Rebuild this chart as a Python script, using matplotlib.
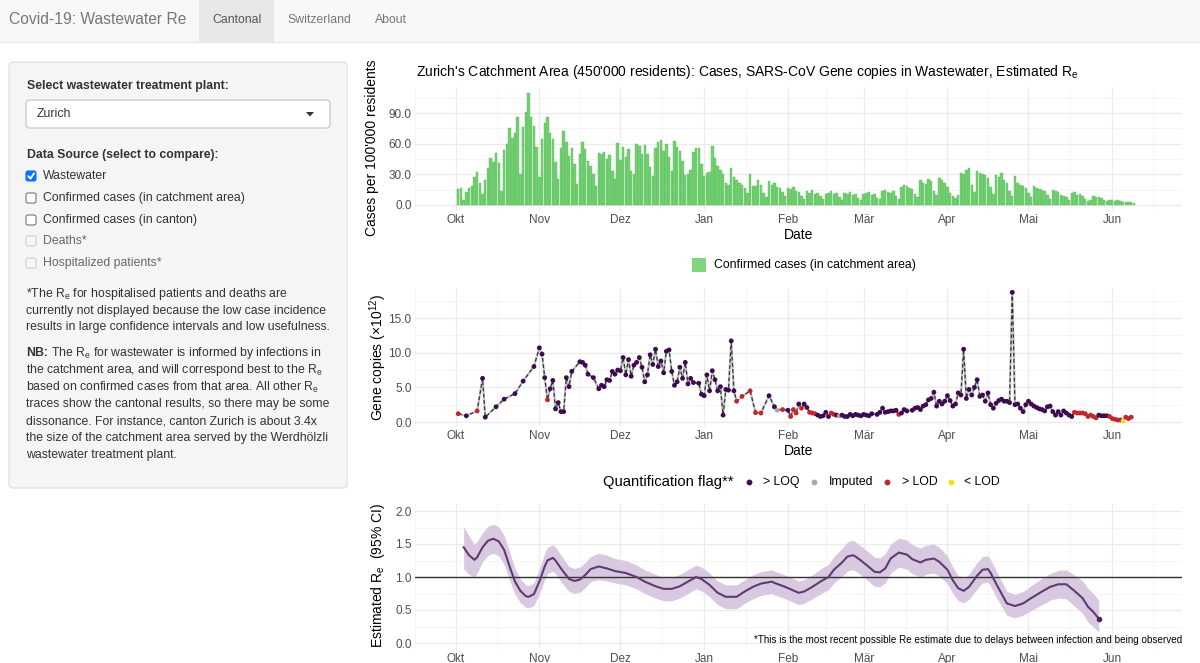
import numpy as np
import pandas as pd
import matplotlib
matplotlib.use('Agg')
import matplotlib.pyplot as plt
import matplotlib.dates as mdates
from matplotlib.patches import FancyBboxPatch, Rectangle, Polygon

plt.rcParams['font.family'] = ['Liberation Sans', 'DejaVu Sans']
plt.rcParams['mathtext.fontset'] = 'custom'
plt.rcParams['mathtext.rm'] = 'Liberation Sans'
plt.rcParams['mathtext.it'] = 'Liberation Sans:italic'
plt.rcParams['mathtext.bf'] = 'Liberation Sans:bold'

# ---------------- data ----------------
origin = pd.Timestamp('2020-10-01')
month_starts = ['2020-10-01', '2020-11-01', '2020-12-01', '2021-01-01', '2021-02-01',
                '2021-03-01', '2021-04-01', '2021-05-01', '2021-06-01']
month_labels = ['Okt', 'Nov', 'Dez', 'Jan', 'Feb', 'Mär', 'Apr', 'Mai', 'Jun']

cases_start = '2020-10-02'
cases = [16, 17, 5, 13, 17, 19, 27, 32, 22, 11, 24, 36, 46, 42, 51, 41, 14, 54, 60, 75,
         66, 70, 86, 30, 76, 91, 110, 86, 77, 57, 27,
         65, 80, 86, 70, 65, 42, 25,
         56, 72, 62, 48, 56, 40, 21,
         50, 62, 55, 43, 38, 30, 19,
         51, 50, 52, 45, 49, 33, 25,
         61, 44, 57, 47, 55, 33, 30,
         60, 58, 50, 59, 50, 37, 28,
         56, 62, 64, 53, 60, 47, 33,
         63, 57, 53, 43, 29, 30, 34,
         52, 56, 56, 40, 28, 31, 32,
         58, 46, 38, 34, 30, 22, 20,
         36, 27, 24, 22, 20, 17, 12,
         30, 19, 19, 24, 20, 12, 8,
         23, 20, 22, 18, 17, 13, 9,
         17, 16, 18, 14, 13, 9, 6,
         14, 12, 15, 11, 12, 9, 6,
         11, 12, 14, 11, 12, 8, 5,
         12, 11, 13, 10, 11, 7, 5,
         11, 12, 13, 10, 11, 7, 6,
         14, 15, 13, 12, 14, 9, 6,
         18, 20, 19, 17, 16, 11, 8,
         24, 22, 21, 25, 23, 14, 10,
         26, 24, 22, 18, 12, 9, 7,
         10, 31, 30, 34, 36, 20, 13,
         33, 31, 30, 29, 26, 18, 11,
         29, 27, 31, 24, 22, 14, 9,
         28, 22, 20, 19, 17, 12, 8,
         19, 17, 16, 15, 14, 10, 6,
         15, 14, 13, 10, 9, 8, 5,
         12, 13, 10, 11, 9, 6, 4,
         5, 9, 8, 8, 7, 5, 4,
         5, 5, 4, 5, 4, 3, 3,
         3, 3, 2]

# wastewater: day offset from 2020-10-01, gene copies (x1e12)
ww_days = [1, 4, 8, 10, 11, 15, 18, 22, 25, 29, 31, 32, 33, 34, 35, 36, 37, 38, 39, 40,
           41, 42, 43, 46, 47, 48, 49, 51, 53, 54, 55, 56, 57, 58, 59, 60, 61, 62, 63, 64,
           65, 66, 67, 68, 69, 70, 71, 72, 73, 74, 75, 76, 77, 78, 79, 80, 81, 82, 83, 84,
           85, 86, 87, 88, 90, 91, 92, 93, 94, 95, 96, 97, 98, 99, 100, 101, 102, 103, 104, 106,
           109, 111, 113, 116, 118, 119, 121, 123, 124, 125, 126, 127, 128, 129, 130, 131, 132, 133, 134, 135,
           136, 137, 138, 139, 140, 141, 142, 143, 144, 145, 146, 147, 148, 149, 150, 151, 152, 153, 154, 156,
           157, 158, 159, 160, 161, 162, 163, 164, 165, 166, 167, 169, 170, 171, 172, 173, 174, 175, 176, 177,
           178, 179, 180, 181, 182, 183, 184, 185, 186, 187, 188, 189, 190, 191, 192, 193, 194, 195, 196, 197,
           198, 199, 200, 201, 202, 203, 204, 205, 206, 207, 208, 209, 210, 211, 212, 213, 214, 215, 216, 217,
           218, 219, 220, 221, 222, 223, 224, 225, 226, 227, 228, 229, 230, 231, 232, 233, 234, 235, 236, 237,
           238, 239, 240, 241, 242, 243, 244, 245, 246, 247, 248, 249, 250]
ww_values = [1.2, 0.9, 1.6, 6.3, 0.7, 2.2, 3.3, 4.1, 5.9, 8.0, 10.7, 9.8, 6.4, 3.2, 4.8, 6.0, 1.9, 2.8, 1.5, 1.5,
             6.4, 5.1, 7.3, 8.7, 8.6, 8.2, 6.9, 6.4, 4.8, 5.3, 5.1, 6.1, 6.0, 7.3, 6.9, 7.5, 7.4, 9.3, 6.8, 9.0,
             6.6, 8.2, 8.6, 9.3, 7.9, 5.8, 6.8, 9.7, 8.3, 10.5, 8.0, 8.8, 7.1, 10.2, 10.4, 7.3, 5.3, 5.8, 7.9, 6.3,
             8.6, 5.5, 6.3, 5.7, 5.6, 4.0, 3.8, 6.8, 4.5, 7.4, 6.1, 4.5, 5.1, 1.0, 4.7, 4.6, 11.7, 4.5, 3.0, 3.7,
             4.5, 1.35, 1.3, 3.8, 2.2, 1.7, 1.8, 1.7, 0.8, 1.8, 1.3, 2.6, 2.0, 2.6, 2.1, 1.4, 1.3, 1.2, 1.0, 0.8,
             0.9, 1.4, 0.8, 1.3, 1.1, 1.0, 0.9, 1.0, 0.8, 0.8, 1.1, 0.9, 1.1, 1.0, 0.9, 1.1, 1.0, 0.9, 1.2, 1.1,
             1.4, 2.0, 1.4, 1.5, 1.6, 1.6, 1.7, 1.1, 1.3, 1.8, 1.6, 1.7, 2.0, 2.1, 1.8, 2.3, 2.5, 3.2, 3.4, 4.3,
             2.3, 3.0, 2.6, 3.0, 3.8, 3.1, 2.3, 2.6, 4.2, 3.9, 10.5, 3.4, 4.7, 3.9, 5.0, 6.1, 3.7, 3.9, 3.0, 4.2,
             2.5, 2.0, 2.7, 3.1, 3.3, 3.0, 3.0, 2.8, 18.7, 2.5, 2.6, 2.0, 1.5, 2.5, 3.0, 2.6, 2.3, 2.1, 1.9, 1.8,
             1.6, 2.2, 2.3, 1.5, 1.0, 1.5, 1.0, 1.6, 1.3, 1.0, 0.8, 1.4, 1.3, 1.3, 1.3, 1.2, 0.8, 1.0, 0.8, 0.6,
             1.0, 0.9, 0.9, 0.9, 0.8, 0.5, 0.4, 0.3, 0.3, 0.15, 0.7, 0.5, 0.7]
# quantification flags: every sample is '>LOQ' except on these days
ww_lod_days = [1, 8, 34, 104, 106, 109, 111, 113, 121, 124, 125, 126, 128, 131, 132, 133, 139, 140, 164,
               229, 230, 231, 232, 233, 234, 235, 236, 237, 242, 243, 244, 245, 246, 248, 249, 250]
ww_imputed_days = [119, 142]
ww_below_lod_days = [247]

# estimated Re (day offset from 2020-10-01), with 95% CI
re_days = [3, 5, 7, 8, 10, 12, 14, 16, 18, 20,
           22, 24, 26, 27, 29, 31, 33, 34, 36, 37,
           39, 42, 44, 46, 48, 50, 53, 56, 59, 63,
           67, 70, 74, 77, 80, 83, 86, 89, 91, 94,
           97, 100, 104, 107, 110, 113, 117, 118, 122, 127,
           129, 132, 135, 138, 140, 143, 145, 147, 148, 150,
           153, 155, 157, 159, 161, 164, 167, 169, 172, 174,
           177, 179, 182, 184, 186, 188, 190, 193, 195, 197,
           198, 200, 202, 204, 207, 210, 213, 217, 220, 223,
           226, 229, 232, 234, 236, 238]
re_mean = [1.45, 1.33, 1.26, 1.30, 1.45, 1.55, 1.58, 1.54, 1.41, 1.16,
           0.93, 0.79, 0.71, 0.70, 0.74, 0.93, 1.16, 1.25, 1.29, 1.25,
           1.13, 0.97, 0.94, 0.96, 1.03, 1.12, 1.16, 1.13, 1.09, 1.06,
           1.00, 0.93, 0.86, 0.82, 0.82, 0.86, 0.93, 1.00, 0.97, 0.88,
           0.76, 0.70, 0.70, 0.78, 0.85, 0.90, 0.93, 0.91, 0.85, 0.76,
           0.78, 0.85, 0.93, 1.00, 1.11, 1.22, 1.31, 1.33, 1.31, 1.25,
           1.15, 1.08, 1.07, 1.13, 1.28, 1.37, 1.34, 1.27, 1.22, 1.26,
           1.28, 1.23, 1.11, 0.95, 0.83, 0.79, 0.85, 1.02, 1.11, 1.12,
           1.06, 0.90, 0.75, 0.60, 0.56, 0.60, 0.68, 0.78, 0.85, 0.89,
           0.89, 0.79, 0.68, 0.55, 0.47, 0.37]
re_lo = [1.12, 1.04, 1.00, 1.06, 1.23, 1.33, 1.36, 1.32, 1.19, 0.95,
         0.74, 0.61, 0.54, 0.53, 0.57, 0.74, 0.96, 1.05, 1.09, 1.05,
         0.93, 0.78, 0.75, 0.77, 0.84, 0.93, 0.96, 0.94, 0.91, 0.88,
         0.82, 0.75, 0.68, 0.64, 0.64, 0.68, 0.75, 0.82, 0.79, 0.70,
         0.58, 0.52, 0.52, 0.60, 0.67, 0.72, 0.75, 0.73, 0.67, 0.58,
         0.60, 0.67, 0.74, 0.81, 0.91, 1.01, 1.09, 1.11, 1.09, 1.03,
         0.93, 0.86, 0.85, 0.91, 1.06, 1.15, 1.12, 1.05, 1.00, 1.04,
         1.06, 1.01, 0.90, 0.75, 0.64, 0.61, 0.66, 0.82, 0.91, 0.92,
         0.86, 0.70, 0.56, 0.42, 0.38, 0.42, 0.49, 0.58, 0.65, 0.68,
         0.67, 0.56, 0.45, 0.32, 0.24, 0.17]
re_hi = [1.76, 1.62, 1.50, 1.54, 1.67, 1.77, 1.80, 1.76, 1.63, 1.38,
         1.13, 0.97, 0.88, 0.87, 0.91, 1.12, 1.36, 1.45, 1.49, 1.45,
         1.33, 1.16, 1.13, 1.15, 1.22, 1.31, 1.36, 1.33, 1.28, 1.25,
         1.18, 1.11, 1.04, 0.99, 0.99, 1.04, 1.11, 1.18, 1.15, 1.06,
         0.94, 0.88, 0.88, 0.96, 1.03, 1.08, 1.11, 1.09, 1.03, 0.94,
         0.96, 1.03, 1.12, 1.19, 1.31, 1.43, 1.53, 1.56, 1.53, 1.47,
         1.37, 1.30, 1.29, 1.35, 1.50, 1.59, 1.56, 1.49, 1.44, 1.48,
         1.50, 1.45, 1.32, 1.15, 1.02, 0.98, 1.04, 1.22, 1.31, 1.32,
         1.26, 1.10, 0.94, 0.78, 0.74, 0.78, 0.87, 0.98, 1.05, 1.10,
         1.11, 1.03, 0.94, 0.83, 0.75, 0.65]

flag_order = ['>LOQ', 'Imputed', '>LOD', '<LOD']
flag_labels = ['> LOQ', 'Imputed', '> LOD', '< LOD']
flag_colors = {'>LOQ': '#3E0B51', 'Imputed': '#A8A8A8', '>LOD': '#C1272D', '<LOD': '#F2E21A'}

def flag_of(d):
    if d in ww_lod_days:
        return '>LOD'
    if d in ww_imputed_days:
        return 'Imputed'
    if d in ww_below_lod_days:
        return '<LOD'
    return '>LOQ'

ww_flags = [flag_of(d) for d in ww_days]

# ---------------- figure ----------------
W, H = 1200, 663
fig = plt.figure(figsize=(12, 6.63), dpi=100)
fig.patch.set_facecolor('white')

bg = fig.add_axes([0, 0, 1, 1])
bg.set_xlim(0, W)
bg.set_ylim(H, 0)
bg.axis('off')

# navbar
bg.add_patch(Rectangle((0, 0), W, 42, facecolor='#f8f8f8', edgecolor='none'))
bg.add_patch(Rectangle((199, 0), 75, 42, facecolor='#e7e7e7', edgecolor='none'))
bg.plot([0, W], [42, 42], color='#e7e7e7', lw=1)
bg.text(9, 20, 'Covid-19: Wastewater Re', fontsize=11.25, color='#777777', va='center', ha='left')
bg.text(212, 20, 'Cantonal', fontsize=8.8, color='#555555', va='center', ha='left')
bg.text(287, 20, 'Switzerland', fontsize=8.8, color='#777777', va='center', ha='left')
bg.text(375, 20, 'About', fontsize=8.8, color='#777777', va='center', ha='left')

# sidebar
bg.add_patch(FancyBboxPatch((9, 62), 338, 426, boxstyle='round,pad=0,rounding_size=4',
                            facecolor='#f5f5f5', edgecolor='#e3e3e3', lw=1))
tc = '#333333'
fs = 8.8
bg.text(27, 86, 'Select wastewater treatment plant:', fontsize=fs, fontweight='bold', color=tc, va='center')
bg.add_patch(FancyBboxPatch((26, 100), 304, 28, boxstyle='round,pad=0,rounding_size=4',
                            facecolor='white', edgecolor='#cccccc', lw=1))
bg.text(37, 114, 'Zurich', fontsize=fs, color=tc, va='center')
bg.add_patch(Polygon([(306, 112), (314, 112), (310, 116.5)], closed=True, facecolor='#333333', edgecolor='none'))
bg.text(27, 155, 'Data Source (select to compare):', fontsize=fs, fontweight='bold', color=tc, va='center')

cb_labels = ['Wastewater', 'Confirmed cases (in catchment area)', 'Confirmed cases (in canton)',
             'Deaths*', 'Hospitalized patients*']
cb_y = [176, 198, 220, 241, 263]
for i, (lab, yy) in enumerate(zip(cb_labels, cb_y)):
    if i == 0:
        bg.add_patch(FancyBboxPatch((26, yy - 5), 10, 10, boxstyle='round,pad=0,rounding_size=2',
                                    facecolor='#0075ff', edgecolor='#0075ff', lw=0.8))
        bg.plot([28.3, 30.5, 34], [yy + 0.2, yy + 2.6, yy - 2.6], color='white', lw=1.4,
                solid_capstyle='round', solid_joinstyle='round')
        col = tc
    elif i < 3:
        bg.add_patch(FancyBboxPatch((26, yy - 5), 10, 10, boxstyle='round,pad=0,rounding_size=2',
                                    facecolor='white', edgecolor='#767676', lw=0.8))
        col = tc
    else:
        bg.add_patch(FancyBboxPatch((26, yy - 5), 10, 10, boxstyle='round,pad=0,rounding_size=2',
                                    facecolor='#f7f7f7', edgecolor='#d0d0d0', lw=0.8))
        col = '#666666'
    bg.text(43, yy, lab, fontsize=fs, color=col, va='center')

Re = r'$\mathrm{R}_{\mathrm{e}}$'
note1 = ['*The ' + Re + ' for hospitalised patients and deaths are',
         'currently not displayed because the low case incidence',
         'results in large confidence intervals and low usefulness.']
for yy, line in zip([294, 311, 327], note1):
    bg.text(26, yy, line, fontsize=fs, color=tc, va='center')
bg.text(26, 353, 'NB:', fontsize=fs, fontweight='bold', color=tc, va='center')
nb_lines = ['The ' + Re + ' for wastewater is informed by infections in',
            'the catchment area, and will correspond best to the ' + Re,
            'based on confirmed cases from that area. All other ' + Re,
            'traces show the cantonal results, so there may be some',
            'dissonance. For instance, canton Zurich is about 3.4x',
            'the size of the catchment area served by the Werdhölzli',
            'wastewater treatment plant.']
nb_y = [353, 370, 387, 404, 421, 438, 455]
for k, (yy, line) in enumerate(zip(nb_y, nb_lines)):
    bg.text(51 if k == 0 else 26, yy, line, fontsize=fs, color=tc, va='center')

# ---------------- plot panels ----------------
def axes_px(x0, y0, x1, y1):
    return fig.add_axes([x0 / W, 1 - y1 / H, (x1 - x0) / W, (y1 - y0) / H])

ms_dates = pd.to_datetime(month_starts)
grid_months = pd.date_range('2020-09-01', '2021-07-01', freq='MS')
minor_ticks = [grid_months[i] + (grid_months[i + 1] - grid_months[i]) / 2 for i in range(len(grid_months) - 1)]
xlo = mdates.date2num(origin) - 13.6
xhi = mdates.date2num(origin) + 268.8

def style(ax, yticks, yminor, ylab_fmt):
    ax.set_facecolor('none')
    for s in ax.spines.values():
        s.set_visible(False)
    ax.set_xlim(xlo, xhi)
    ax.set_xticks(mdates.date2num(ms_dates))
    ax.set_xticklabels(month_labels)
    ax.set_xticks(mdates.date2num(pd.DatetimeIndex(minor_ticks)), minor=True)
    ax.set_yticks(yticks)
    ax.set_yticklabels([ylab_fmt.format(v) for v in yticks])
    ax.set_yticks(yminor, minor=True)
    ax.tick_params(which='both', length=0, labelsize=8.5, labelcolor='#4d4d4d', pad=2.5)
    ax.grid(which='major', color='#ebebeb', lw=0.9)
    ax.grid(which='minor', color='#f2f2f2', lw=0.5)
    ax.set_axisbelow(True)

# Panel 1: cases
ax1 = axes_px(415, 87, 1182, 210.6)
case_dates = pd.date_range(cases_start, periods=len(cases), freq='D')
ax1.bar(case_dates, cases, width=0.9, color='#72cf72', edgecolor='#5fbf60', lw=0.3, zorder=2)
ax1.set_ylim(-5.5, 115.5)
style(ax1, [0, 30, 60, 90], [15, 45, 75, 105], '{:.1f}')

# Panel 2: wastewater
ax2 = axes_px(415, 287.5, 1182, 426.2)
ww_dates = origin + pd.to_timedelta(ww_days, unit='D')
ax2.plot(ww_dates, ww_values, color='#c4c4c4', lw=1.6, zorder=2)
ax2.plot(ww_dates, ww_values, color='#333333', lw=0.9, ls=(0, (3, 2)), zorder=3)
ww_cols = [flag_colors[f] for f in ww_flags]
ax2.scatter(ww_dates, ww_values, c=ww_cols, s=12, edgecolors='none', zorder=4)
ax2.set_ylim(-0.6, 19.4)
style(ax2, [0, 5, 10, 15], [2.5, 7.5, 12.5, 17.5], '{:.1f}')

# Panel 3: Re
ax3 = axes_px(415, 504.4, 1182, 649.6)
re_dates = origin + pd.to_timedelta(re_days, unit='D')
ax3.fill_between(re_dates, re_lo, re_hi, color='#d9c9e0', lw=0, zorder=2)
ax3.axhline(1.0, color='#333333', lw=1.0, zorder=3)
ax3.plot(re_dates, re_mean, color='#5e3c6e', lw=1.5, zorder=4, solid_joinstyle='round')
ax3.plot(re_dates[-1:], re_mean[-1:], 'o', ms=3, color='#4a2a5a', zorder=5)
ax3.set_ylim(-0.1, 2.1)
style(ax3, [0, 0.5, 1.0, 1.5, 2.0], [0.25, 0.75, 1.25, 1.75], '{:.1f}')
ax3.text(1.0, 0.066, '*This is the most recent possible Re estimate due to delays between infection and being observed',
         transform=ax3.transAxes, fontsize=7.1, va='center', ha='right', color='black', zorder=6)

# titles / labels
bg.text(416, 72, "Zurich's Catchment Area (450'000 residents): Cases, SARS-CoV Gene copies in Wastewater, Estimated "
        + Re, fontsize=10.0, color='black', va='center', ha='left')
bg.text(372, 148, "Cases per 100'000 residents", fontsize=10, rotation=90, va='center', ha='center')
bg.text(799, 235, 'Date', fontsize=10, va='center', ha='center')
bg.text(378, 357, r'Gene copies ($\times10^{12}$)', fontsize=10, rotation=90, va='center', ha='center')
bg.text(799, 451, 'Date', fontsize=10, va='center', ha='center')
bg.text(378, 575, 'Estimated ' + Re + '  (95% CI)', fontsize=10, rotation=90, va='center', ha='center')

# legend panel 1
bg.add_patch(Rectangle((692, 258), 14, 14, facecolor='#7fd67f', edgecolor='none'))
bg.text(714, 265, 'Confirmed cases (in catchment area)', fontsize=8.8, va='center', ha='left')

# legend panel 2
bg.text(603, 482, 'Quantification flag**', fontsize=10.6, va='center', ha='left')
leg_dot_x = [749, 814, 887, 951]
leg_txt_x = [763, 829, 902, 964]
for f, lab, dx, tx in zip(flag_order, flag_labels, leg_dot_x, leg_txt_x):
    bg.plot([dx], [482], 'o', ms=4.2, color=flag_colors[f], mec='none')
    bg.text(tx, 482, lab, fontsize=8.8, va='center', ha='left')

fig.savefig('out.png', dpi=100)
